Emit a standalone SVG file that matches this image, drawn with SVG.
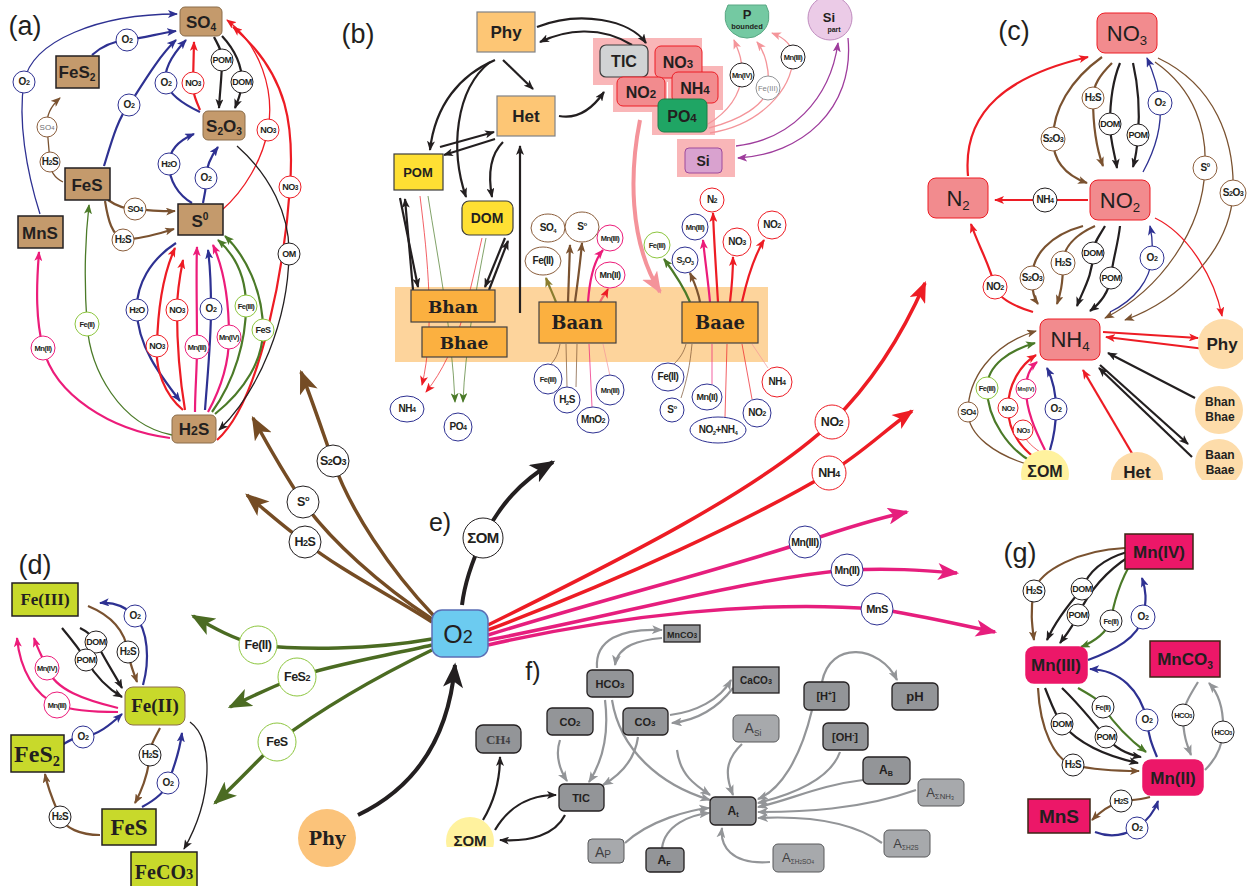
<svg xmlns="http://www.w3.org/2000/svg" width="1255" height="886" viewBox="0 0 1255 886">
<style>
text{font-family:"Liberation Sans",Arial,sans-serif;fill:#231f20;text-anchor:middle}
.pl{font-size:27px}
.t{font-size:10px;font-weight:bold;letter-spacing:-0.5px}
.t8{font-size:9px;font-weight:bold;letter-spacing:-0.5px}
.t7{font-size:7.5px;font-weight:bold;letter-spacing:-0.5px}
.te{font-size:12.5px;font-weight:bold;letter-spacing:-0.5px}
.d{font-size:72%}
.sb{font-size:60%}
.cB{fill:#fff;stroke:#2e3192}
.cR{fill:#fff;stroke:#ed1c24}
.cK{fill:#fff;stroke:#231f20}
.cN{fill:#fff;stroke:#8b5e3c}
.cG{fill:#fff;stroke:#8dc63f}
.cP{fill:#fff;stroke:#ec1c7a}
.cY{fill:#fff;stroke:#939598}
.ba{fill:#c49a6c;stroke:#8b6d4a;stroke-width:1}
.bas{fill:#c49a6c;stroke:#231f20;stroke-width:1.5}
.bt{font-size:17px;font-weight:bold}
.or{fill:#fdc675;stroke:#808285;stroke-width:1.2}
.ye{fill:#ffe033;stroke:#3c3c3c;stroke-width:1.2}
.rd{fill:#f28b8e;stroke:#ed1c24;stroke-width:1}
.bh{fill:#fbb040;stroke:#414042;stroke-width:1.2}
.bht{font-family:"DejaVu Serif",serif;font-weight:bold;font-size:17px}
.fe{fill:#c8d92b;stroke:#231f20;stroke-width:1.5}
.fet{font-family:"Liberation Serif",serif;font-weight:bold}
.mn{fill:#ec1768;stroke:#3c2415;stroke-width:1.5}
.mnt{font-size:17px;font-weight:bold}
.gb{fill:#939598;stroke:#231f20;stroke-width:1.3}
.gl{fill:#a7a9ac;stroke:#58595b;stroke-width:1}
.gt{font-size:11px;font-weight:bold}
.glt{font-size:14px;fill:#414042}
#connectors path{fill:none;stroke-width:1.3}
.b{stroke:#2e3192;marker-end:url(#mb)}
.r{stroke:#ed1c24;marker-end:url(#mr)}
.k{stroke:#231f20;marker-end:url(#mk)}
.n{stroke:#7a5230;marker-end:url(#mn)}
.g{stroke:#4b7a28;marker-end:url(#mg)}
.p{stroke:#ec1c7a;marker-end:url(#mp)}
.y{stroke:#939598;marker-end:url(#my)}
.s{stroke:#f4959a;marker-end:url(#ms)}
.u{stroke:#9e3c9c;marker-end:url(#mu)}
.o{stroke:#8a7d2e;marker-end:url(#mo)}
.z{marker-end:none}
#connectors .w{stroke-width:2.2}
#connectors .th{stroke-width:0.7}
#connectors .eN{stroke:#754c24;stroke-width:3.5;marker-end:url(#MN)}
#connectors .eG{stroke:#4b6b22;stroke-width:3.5;marker-end:url(#MG)}
#connectors .eR{stroke:#ed1c24;stroke-width:3.5;marker-end:url(#MR)}
#connectors .eP{stroke:#e61e7d;stroke-width:3.5;marker-end:url(#MP)}
#connectors .eK{stroke:#231f20;stroke-width:4;marker-end:url(#MK)}
#connectors .eS{stroke:#f4939a;stroke-width:4;marker-end:url(#MS)}
</style>
<defs>
<marker id="mb" viewBox="0 0 10 8" refX="9" refY="4" markerWidth="10" markerHeight="8" markerUnits="userSpaceOnUse" orient="auto"><path d="M0,0 L10,4 L0,8 L2.5,4 z" fill="#2e3192"/></marker>
<marker id="mr" viewBox="0 0 10 8" refX="9" refY="4" markerWidth="10" markerHeight="8" markerUnits="userSpaceOnUse" orient="auto"><path d="M0,0 L10,4 L0,8 L2.5,4 z" fill="#ed1c24"/></marker>
<marker id="mk" viewBox="0 0 10 8" refX="9" refY="4" markerWidth="10" markerHeight="8" markerUnits="userSpaceOnUse" orient="auto"><path d="M0,0 L10,4 L0,8 L2.5,4 z" fill="#231f20"/></marker>
<marker id="mn" viewBox="0 0 10 8" refX="9" refY="4" markerWidth="10" markerHeight="8" markerUnits="userSpaceOnUse" orient="auto"><path d="M0,0 L10,4 L0,8 L2.5,4 z" fill="#7a5230"/></marker>
<marker id="mg" viewBox="0 0 10 8" refX="9" refY="4" markerWidth="10" markerHeight="8" markerUnits="userSpaceOnUse" orient="auto"><path d="M0,0 L10,4 L0,8 L2.5,4 z" fill="#4b7a28"/></marker>
<marker id="mp" viewBox="0 0 10 8" refX="9" refY="4" markerWidth="10" markerHeight="8" markerUnits="userSpaceOnUse" orient="auto"><path d="M0,0 L10,4 L0,8 L2.5,4 z" fill="#ec1c7a"/></marker>
<marker id="my" viewBox="0 0 10 8" refX="9" refY="4" markerWidth="11" markerHeight="9" markerUnits="userSpaceOnUse" orient="auto"><path d="M0,0 L10,4 L0,8 L2.5,4 z" fill="#939598"/></marker>
<marker id="ms" viewBox="0 0 10 8" refX="9" refY="4" markerWidth="10" markerHeight="8" markerUnits="userSpaceOnUse" orient="auto"><path d="M0,0 L10,4 L0,8 L2.5,4 z" fill="#f4959a"/></marker>
<marker id="mu" viewBox="0 0 10 8" refX="9" refY="4" markerWidth="10" markerHeight="8" markerUnits="userSpaceOnUse" orient="auto"><path d="M0,0 L10,4 L0,8 L2.5,4 z" fill="#9e3c9c"/></marker>
<marker id="mo" viewBox="0 0 10 8" refX="9" refY="4" markerWidth="10" markerHeight="8" markerUnits="userSpaceOnUse" orient="auto"><path d="M0,0 L10,4 L0,8 L2.5,4 z" fill="#8a7d2e"/></marker>
<marker id="MN" viewBox="0 0 10 8" refX="9" refY="4" markerWidth="24" markerHeight="19" markerUnits="userSpaceOnUse" orient="auto"><path d="M0,0 L10,4 L0,8 L2.5,4 z" fill="#754c24"/></marker>
<marker id="MG" viewBox="0 0 10 8" refX="9" refY="4" markerWidth="24" markerHeight="19" markerUnits="userSpaceOnUse" orient="auto"><path d="M0,0 L10,4 L0,8 L2.5,4 z" fill="#4b6b22"/></marker>
<marker id="MR" viewBox="0 0 10 8" refX="9" refY="4" markerWidth="22" markerHeight="17" markerUnits="userSpaceOnUse" orient="auto"><path d="M0,0 L10,4 L0,8 L2.5,4 z" fill="#ed1c24"/></marker>
<marker id="MP" viewBox="0 0 10 8" refX="9" refY="4" markerWidth="24" markerHeight="17" markerUnits="userSpaceOnUse" orient="auto"><path d="M0,0 L10,4 L0,8 L2.5,4 z" fill="#e61e7d"/></marker>
<marker id="MK" viewBox="0 0 10 8" refX="9" refY="4" markerWidth="26" markerHeight="20" markerUnits="userSpaceOnUse" orient="auto"><path d="M0,0 L10,4 L0,8 L2.5,4 z" fill="#231f20"/></marker>
<marker id="MS" viewBox="0 0 10 8" refX="9" refY="4" markerWidth="22" markerHeight="18" markerUnits="userSpaceOnUse" orient="auto"><path d="M0,0 L10,4 L0,8 L2.5,4 z" fill="#f4939a"/></marker>
<clipPath id="clc"><rect x="0" y="0" width="1243" height="480"/></clipPath>
<clipPath id="clf"><rect x="0" y="0" width="1255" height="847"/></clipPath>
</defs>

<g id="backgrounds">
<rect x="395" y="287" width="373" height="75" fill="#fdd49c"/>
<g fill="#f9b6b8">
<rect x="593" y="38" width="57" height="47"/>
<rect x="650" y="38" width="52" height="44"/>
<rect x="613" y="76" width="54" height="36"/>
<rect x="668" y="66" width="55" height="44"/>
<rect x="652" y="100" width="63" height="35"/>
<rect x="677" y="139" width="58" height="38"/>
</g>
</g>

<g id="connectors">
<path class="b" d="M40,214 C26,170 18,120 24,82 C32,40 100,14 177,14"/>
<path class="b w" d="M92,55 C102,46 114,41 127,40 C145,38 160,33 176,31"/>
<path class="b w" d="M104,166 C112,140 118,118 129,105 C145,80 160,55 176,40"/>
<path class="b w" d="M200,112 C185,105 170,96 166,83 C163,70 172,55 186,40"/>
<path class="r w" d="M200,110 C196,100 193,95 193,83 L194,42"/>
<path class="k w" d="M214,37 C218,45 222,50 222,60 C222,75 220,90 219,108"/>
<path class="k w" d="M222,36 C235,50 242,65 242,82 C242,92 238,100 235,108"/>
<path class="r" d="M222,210 C245,190 262,160 268,130 C275,90 260,45 227,20"/>
<path class="r w" d="M217,440 C262,400 285,260 290,187 C294,130 290,75 233,27"/>
<path class="k" d="M237,146 C270,175 290,215 289,254 C288,320 260,390 219,430"/>
<path class="b w" d="M192,203 C178,195 169,180 169,164 C169,150 180,140 194,134"/>
<path class="b w" d="M203,203 C205,195 206,188 206,178 C206,165 212,155 218,147"/>
<path class="n w" d="M108,200 C115,205 125,209 135,209 C150,210 160,212 175,211"/>
<path class="n w" d="M105,201 C108,220 112,236 124,239 C140,240 160,233 174,229"/>
<path class="n" d="M63,182 C55,178 50,172 50,162 L47,127 C46,115 52,105 60,98"/>
<path class="g" d="M172,435 C120,425 90,370 87,324 C84,280 85,240 89,205"/>
<path class="p w" d="M170,438 C110,430 55,395 43,348 C36,320 36,290 39,252"/>
<path class="b w" d="M176,243 C150,260 136,285 137,310 C137,345 160,375 180,401"/>
<path class="r w" d="M183,410 C165,395 155,370 157,346 C158,300 165,270 175,248"/>
<path class="r w" d="M185,410 C180,380 177,340 177,310 C177,290 180,275 183,260"/>
<path class="p w" d="M195,412 C195,390 197,370 197,347 C197,310 196,270 197,247"/>
<path class="b w" d="M205,410 C208,370 211,340 211,309 C211,285 210,265 208,250"/>
<path class="p w" d="M208,412 C220,390 229,365 229,337 C229,295 222,265 213,245"/>
<path class="g w" d="M212,412 C235,380 246,340 246,306 C246,275 235,255 218,240"/>
<path class="g w" d="M215,414 C245,390 263,360 263,330 C263,290 245,255 225,236"/>

<path class="k w" d="M537,27 C580,10 630,20 646,43"/>
<path class="k w" d="M632,45 C600,25 565,30 540,42"/>
<path class="k w" d="M503,60 L533,89"/>
<path class="k w" d="M495,60 C460,75 435,105 430,150"/>
<path class="k w" d="M490,62 C455,90 450,150 466,197"/>
<path class="k w" d="M503,142 C490,155 488,175 492,197"/>
<path class="k w" d="M440,147 L494,132"/>
<path class="k w" d="M495,139 L444,155"/>
<path class="k w" d="M520,313 L520,146"/>
<path class="k w" d="M559,116 C580,120 595,105 604,92"/>
<path class="eS" d="M640,120 C630,170 628,240 660,292"/>
<path class="k w" d="M400,198 L418,287"/>
<path class="k w" d="M413,290 L405,199"/>
<path class="k w" d="M505,238 L485,287"/>
<path class="k w" d="M489,290 L508,241"/>
<path class="r th" d="M420,196 C428,260 435,330 422,385"/>
<path class="r th" d="M482,238 C470,290 460,350 426,392"/>
<path class="g th" d="M428,196 C438,260 452,330 455,402"/>
<path class="g th" d="M486,238 C476,290 465,350 463,402"/>
<path class="s" d="M708,124 C728,112 740,95 742,75 C743,60 738,50 734,40"/>
<path class="s" d="M709,128 C740,120 765,105 768,88 C770,70 765,52 757,42"/>
<path class="s" d="M710,133 C760,125 792,90 793,57 C793,45 785,38 772,33"/>
<path class="u" d="M736,146 C790,140 830,100 838,43"/>
<path class="u" d="M848,38 C855,110 800,155 738,158"/>
<path class="o w" d="M556,302 C552,292 549,286 546,278"/>
<path class="n w" d="M568,302 L570,245"/>
<path class="n w" d="M575,302 C578,280 580,265 582,243"/>
<path class="p w" d="M588,302 C590,275 596,258 603,250"/>
<path class="w" style="stroke:#f26d6d;marker-end:url(#mr)" d="M600,302 C603,296 606,293 608,289"/>
<path class="n z th" d="M560,344 C558,355 555,360 550,365"/>
<path class="n z th" d="M566,344 L567,387"/>
<path class="n z th" d="M577,344 L576,387"/>
<path class="p z th" d="M589,344 L592,407"/>
<path class="s z th" d="M603,344 L610,376"/>
<path class="g w" d="M690,302 C685,290 676,275 664,259"/>
<path class="n w" d="M700,302 C698,290 694,282 690,273"/>
<path class="p w" d="M710,302 C708,280 705,260 703,240"/>
<path class="r w" d="M718,302 C716,270 714,240 713,213"/>
<path class="r w" d="M730,302 C732,285 733,270 733,257"/>
<path class="r w" d="M742,302 C748,275 755,255 764,240"/>
<path class="n z th" d="M692,344 C690,365 687,380 681,398"/>
<path class="n z th" d="M686,344 C684,352 680,358 674,364"/>
<path class="p z th" d="M712,344 L712,384"/>
<path class="r z th" d="M727,344 L725,417"/>
<path class="r z th" d="M742,344 L752,399"/>
<path class="s z th" d="M752,344 L768,368"/>

<path class="r w" d="M968,176 C962,110 1010,75 1088,57"/>
<path class="r w" d="M1088,200 L995,200"/>
<path class="n w" d="M1102,57 C1070,80 1053,110 1053,139 C1053,160 1065,175 1087,183"/>
<path class="n w" d="M1112,63 C1100,75 1093,85 1093,98 C1093,130 1097,150 1103,166"/>
<path class="k w" d="M1120,63 C1113,80 1110,100 1110,124 C1110,140 1115,155 1117,168"/>
<path class="k w" d="M1133,63 C1138,85 1140,110 1138,135 C1137,150 1135,160 1133,167"/>
<path class="b" d="M1143,172 C1155,150 1162,125 1160,103 C1158,85 1153,72 1147,58"/>
<path class="n" d="M1155,62 C1195,90 1207,130 1205,168 C1203,230 1160,290 1105,318"/>
<path class="n" d="M1158,58 C1215,85 1235,140 1233,193 C1230,250 1180,300 1125,320"/>
<path class="r" d="M1155,218 C1190,235 1215,280 1222,316"/>
<path class="r w" d="M1033,312 C1010,305 998,297 995,287 C990,265 978,245 971,224"/>
<path class="n w" d="M1083,226 C1050,235 1032,255 1032,278 C1032,292 1035,300 1038,304"/>
<path class="n w" d="M1095,226 C1075,235 1063,248 1063,263 C1063,285 1060,295 1057,304"/>
<path class="k w" d="M1105,226 C1100,235 1093,243 1093,253 C1093,275 1083,290 1077,306"/>
<path class="k w" d="M1120,226 C1118,245 1112,262 1111,278 C1108,295 1098,305 1090,311"/>
<path class="b" d="M1110,312 C1135,300 1150,280 1152,258 C1153,245 1152,235 1150,226"/>
<path class="r w" d="M1103,332 L1198,338"/>
<path class="r w" d="M1205,349 L1106,337"/>
<path class="k w" d="M1195,398 L1108,353"/>
<path class="k w" d="M1100,365 L1188,444"/>
<path class="k w" d="M1192,457 L1099,368"/>
<path class="r w" d="M1133,455 L1083,370"/>
<path class="n" d="M1030,465 C995,455 968,435 968,412 C968,380 990,345 1036,331"/>
<path class="g w" d="M1032,462 C1010,450 987,420 987,388 C987,365 1010,350 1035,343"/>
<path class="r w" d="M1035,458 C1018,445 1008,428 1008,408 C1008,385 1020,365 1036,355"/>
<path class="r z th" d="M1040,452 C1030,445 1023,438 1023,430"/>
<path class="p w" d="M1045,450 C1035,430 1026,410 1026,389 C1026,375 1031,367 1037,362"/>
<path class="b w" d="M1050,450 C1053,440 1056,425 1056,409 C1056,390 1052,378 1047,368"/>

<path class="b w" d="M143,685 C150,660 148,630 135,616 C125,606 112,602 100,603"/>
<path class="n w" d="M88,606 C110,615 125,630 128,652 C130,665 134,673 137,682"/>
<path class="k w" d="M80,628 C88,632 93,636 96,642 C105,660 115,675 122,688"/>
<path class="k w" d="M62,628 C72,640 80,650 86,660 C98,680 110,690 122,697"/>
<path class="p w" d="M118,708 C85,700 55,690 47,668 C43,658 38,650 34,638"/>
<path class="p w" d="M118,712 C95,712 70,710 57,705 C35,695 20,670 17,638"/>
<path class="b w" d="M62,745 C70,740 75,737 83,737 C98,735 110,725 122,714"/>
<path class="n w" d="M160,728 C155,738 150,745 150,755 C148,775 142,790 135,803"/>
<path class="b w" d="M142,807 C155,800 165,792 168,783 C175,765 180,748 182,733"/>
<path class="n w" d="M100,835 C80,835 65,828 60,817 C55,805 48,790 45,774"/>
<path class="k" d="M190,722 C215,740 212,800 184,849"/>

<path class="n w" d="M1125,548 C1080,550 1040,570 1034,591 C1030,610 1032,625 1034,640"/>
<path class="k w" d="M1127,552 C1100,560 1087,575 1082,589 C1068,605 1056,620 1047,640"/>
<path class="k w" d="M1130,556 C1100,575 1085,600 1078,615 C1072,628 1066,635 1060,643"/>
<path class="g w" d="M1133,560 C1120,580 1113,605 1111,621 C1105,635 1093,642 1081,647"/>
<path class="b w" d="M1088,660 C1115,650 1138,638 1143,617 C1147,600 1146,590 1142,578"/>
<path class="b w" d="M1157,757 C1152,745 1148,735 1147,720 C1140,690 1120,670 1090,669"/>
<path class="g w" d="M1078,688 C1090,695 1100,700 1103,707 C1115,725 1130,740 1146,752"/>
<path class="k w" d="M1045,688 C1050,700 1055,715 1062,724 C1080,745 1110,757 1138,763"/>
<path class="k w" d="M1062,688 C1080,705 1095,725 1106,737 C1115,748 1125,754 1141,757"/>
<path class="n w" d="M1038,688 C1040,730 1055,760 1073,765 C1095,770 1120,771 1139,771"/>
<path class="y w" d="M1198,682 C1190,695 1184,705 1183,715 C1183,735 1187,745 1191,755"/>
<path class="y w" d="M1205,770 C1215,760 1222,748 1223,732 C1224,710 1220,695 1209,683"/>
<path class="n w" d="M1150,797 C1140,800 1130,800 1121,801 C1110,805 1100,812 1092,820"/>
<path class="b w" d="M1095,832 C1110,838 1125,835 1137,828 C1148,820 1155,810 1158,801"/>

<path class="eK" d="M462,605 C465,580 475,555 483,538 C500,505 520,482 553,462"/>
<path class="eN" d="M432,622 C390,595 340,570 305,542 C285,528 265,510 247,495"/>
<path class="eN" d="M432,619 C380,585 330,540 303,502 C285,475 265,440 253,418"/>
<path class="eN" d="M434,616 C390,570 350,510 333,461 C322,430 312,400 301,372"/>
<path class="eG" d="M432,639 C370,650 300,650 258,645 C235,640 212,627 193,616"/>
<path class="eG" d="M432,645 C390,655 330,665 297,677 C272,687 250,697 230,707"/>
<path class="eG" d="M432,650 C370,680 320,710 277,742 C258,760 235,785 215,803"/>
<path class="eR" d="M488,625 C620,560 760,490 832,422 C870,385 900,340 925,283"/>
<path class="eR" d="M488,630 C620,580 750,520 829,473 C860,455 885,430 912,411"/>
<path class="eP" d="M488,635 C600,600 720,570 805,542 C840,530 870,520 907,512"/>
<path class="eP" d="M488,640 C620,615 740,580 847,570 C890,568 920,570 957,573"/>
<path class="eP" d="M488,645 C620,615 760,600 877,609 C920,615 960,625 995,632"/>
<path class="eK" d="M358,815 C410,790 448,745 455,665"/>

<path class="y w" d="M597,668 C595,640 620,628 662,630"/>
<path class="y w" d="M662,638 C640,640 618,645 615,665"/>
<path class="y w" d="M670,715 C695,712 720,700 731,680"/>
<path class="y w" d="M733,688 C720,705 700,720 672,723"/>
<path class="y w" d="M560,740 C555,755 560,770 567,781"/>
<path class="y w" d="M605,700 C610,740 600,765 589,782"/>
<path class="y w" d="M638,737 C635,760 620,775 603,785"/>
<path class="y w" d="M612,700 C620,750 660,785 710,800"/>
<path class="y w" d="M677,750 C680,775 695,785 710,795"/>
<path class="y w" d="M625,843 C650,820 690,810 709,808"/>
<path class="y w" d="M662,848 C665,825 690,815 709,813"/>
<path class="y w" d="M742,744 C725,760 725,775 733,795"/>
<path class="y w" d="M822,682 C830,640 880,645 897,680"/>
<path class="y w" d="M812,710 C800,760 780,790 758,799"/>
<path class="y w" d="M840,752 C830,780 790,795 758,803"/>
<path class="y w" d="M863,780 C820,785 790,800 758,807"/>
<path class="y w" d="M916,790 C860,810 800,812 758,812"/>
<path class="y w" d="M882,843 C850,820 800,816 758,818"/>
<path class="y w" d="M770,862 C730,865 720,845 722,828"/>
<path class="k w" d="M495,830 C510,805 530,795 556,795"/>
<path class="k w" d="M565,815 C555,835 530,842 500,840"/>
<path class="k w" d="M483,820 C495,800 500,780 500,757"/>
</g>

<g id="a-SO4"><rect class="ba" x="180" y="7" width="42" height="29" rx="5"/><text class="bt" x="201" y="28">SO<tspan class="sb" dy="3">4</tspan></text></g>
<g id="a-FeS2"><rect class="bas" x="56" y="56" width="43" height="32"/><text class="bt" x="77" y="78">FeS<tspan class="sb" dy="3">2</tspan></text></g>
<g id="a-S2O3"><rect class="ba" x="203" y="111" width="42" height="29" rx="5"/><text class="bt" x="224" y="132">S<tspan class="sb" dy="3">2</tspan><tspan dy="-3">O</tspan><tspan class="sb" dy="3">3</tspan></text></g>
<g id="a-FeS"><rect class="bas" x="65" y="168" width="45" height="32"/><text class="bt" x="87" y="191">FeS</text></g>
<g id="a-S0"><rect class="bas" x="178" y="204" width="45" height="31"/><text class="bt" x="200" y="227">S<tspan class="sb" dy="-7">0</tspan></text></g>
<g id="a-MnS"><rect class="bas" x="18" y="216" width="45" height="32"/><text class="bt" x="40" y="239">MnS</text></g>
<g id="a-H2S"><rect class="ba" x="172" y="415" width="44" height="28" rx="5"/><text class="bt" x="194" y="435">H<tspan class="d">2</tspan>S</text></g>
<g id="a-labels">
<circle class="cB" cx="24" cy="82" r="11"/><text class="t" x="24" y="85">O<tspan class="d">2</tspan></text>
<circle class="cB" cx="127" cy="40" r="11"/><text class="t" x="127" y="43">O<tspan class="d">2</tspan></text>
<circle class="cN" cx="47" cy="127" r="10"/><text x="47" y="130" style="font-size:8px;fill:#6d6e71">SO<tspan class="d">4</tspan></text>
<circle class="cN" cx="50" cy="162" r="10"/><text class="t" x="50" y="165">H<tspan class="d">2</tspan>S</text>
<circle class="cB" cx="129" cy="105" r="11"/><text class="t" x="129" y="108">O<tspan class="d">2</tspan></text>
<circle class="cB" cx="166" cy="83" r="11"/><text class="t" x="166" y="86">O<tspan class="d">2</tspan></text>
<circle class="cR" cx="193" cy="83" r="11"/><text class="t8" x="193" y="86">NO<tspan class="d">3</tspan></text>
<circle class="cK" cx="222" cy="60" r="11"/><text class="t8" x="222" y="63">POM</text>
<circle class="cK" cx="242" cy="82" r="11"/><text class="t8" x="242" y="85">DOM</text>
<circle class="cR" cx="268" cy="130" r="11"/><text class="t8" x="268" y="133">NO<tspan class="d">3</tspan></text>
<circle class="cB" cx="169" cy="164" r="11"/><text class="t8" x="169" y="167">H<tspan class="d">2</tspan>O</text>
<circle class="cB" cx="206" cy="178" r="11"/><text class="t" x="206" y="181">O<tspan class="d">2</tspan></text>
<circle class="cN" cx="135" cy="209" r="11"/><text class="t8" x="135" y="212">SO<tspan class="d">4</tspan></text>
<circle class="cN" cx="123" cy="240" r="11"/><text class="t" x="123" y="243">H<tspan class="d">2</tspan>S</text>
<circle class="cR" cx="290" cy="187" r="11"/><text class="t8" x="290" y="190">NO<tspan class="d">3</tspan></text>
<circle class="cK" cx="289" cy="254" r="11"/><text class="t8" x="289" y="257">OM</text>
<circle class="cB" cx="137" cy="310" r="11"/><text class="t8" x="137" y="313">H<tspan class="d">2</tspan>O</text>
<circle class="cR" cx="177" cy="310" r="11"/><text class="t8" x="177" y="313">NO<tspan class="d">3</tspan></text>
<circle class="cB" cx="211" cy="309" r="11"/><text class="t" x="211" y="312">O<tspan class="d">2</tspan></text>
<circle class="cG" cx="246" cy="306" r="11"/><text class="t7" x="246" y="309">Fe(III)</text>
<circle class="cR" cx="157" cy="346" r="11"/><text class="t8" x="157" y="349">NO<tspan class="d">3</tspan></text>
<circle class="cP" cx="197" cy="347" r="12"/><text class="t7" x="197" y="350">Mn(III)</text>
<circle class="cP" cx="229" cy="337" r="12"/><text class="t7" x="229" y="340">Mn(IV)</text>
<circle class="cG" cx="263" cy="330" r="11"/><text class="t8" x="263" y="333">FeS</text>
<circle class="cG" cx="87" cy="324" r="12"/><text class="t7" x="87" y="327">Fe(II)</text>
<circle class="cP" cx="43" cy="348" r="12"/><text class="t7" x="43" y="351">Mn(II)</text>
</g>

<g id="b-Phy"><rect class="or" x="477" y="12" width="58" height="40"/><text class="bt" x="506" y="38">Phy</text></g>
<g id="b-Het"><rect class="or" x="497" y="96" width="58" height="40"/><text class="bt" x="526" y="122">Het</text></g>
<g id="b-POM"><rect class="ye" x="394" y="154" width="49" height="36"/><text x="418" y="177" style="font-size:13px;font-weight:bold">POM</text></g>
<g id="b-DOM"><rect class="ye" x="462" y="201" width="51" height="34" rx="7"/><text x="487" y="223" style="font-size:14px;font-weight:bold">DOM</text></g>
<g id="b-TIC"><rect x="600" y="45" width="48" height="32" rx="6" fill="#d1d3d4" stroke="#3c3c3c" stroke-width="1.2"/><text x="624" y="67" style="font-size:16px;font-weight:bold">TIC</text></g>
<g id="b-NO3"><rect class="rd" x="655" y="46" width="47" height="32" rx="6"/><text x="678" y="68" style="font-size:16px;font-weight:bold">NO<tspan class="d">3</tspan></text></g>
<g id="b-NO2"><rect class="rd" x="617" y="77" width="48" height="29" rx="6"/><text x="641" y="98" style="font-size:16px;font-weight:bold">NO<tspan class="d">2</tspan></text></g>
<g id="b-NH4"><rect class="rd" x="672" y="72" width="46" height="31" rx="6"/><text x="695" y="94" style="font-size:16px;font-weight:bold">NH<tspan class="d">4</tspan></text></g>
<g id="b-PO4"><rect x="658" y="99" width="49" height="33" rx="6" fill="#1fa564" stroke="#1a7d46"/><text x="682" y="122" style="font-size:16px;font-weight:bold">PO<tspan class="d">4</tspan></text></g>
<g id="b-Si"><rect x="685" y="148" width="37" height="25" rx="4" fill="#d9a2cf" stroke="#9e4a9c"/><text x="703" y="166" style="font-size:14px;font-weight:bold">Si</text></g>
<g id="b-Pbounded"><path d="M728,5 A22,22 0 1 0 766,5 Z" fill="#74c9a2" stroke="#5aa884"/><text x="747" y="19" style="font-size:13px;font-weight:bold">P</text><text x="747" y="29" style="font-size:7.5px;font-weight:bold">bounded</text></g>
<g id="b-Sipart"><circle cx="830" cy="18" r="22" fill="#ebcbe7" stroke="#c08dbf"/><text x="829" y="22" style="font-size:13px;font-weight:bold">Si</text><text x="834" y="32" style="font-size:7px;font-weight:bold">part</text></g>
<g id="b-Bhan"><rect class="bh" x="411" y="290" width="84" height="32"/><text class="bht" x="453" y="313">Bhan</text></g>
<g id="b-Bhae"><rect class="bh" x="422" y="327" width="85" height="30"/><text class="bht" x="464" y="349">Bhae</text></g>
<g id="b-Baan"><rect class="bh" x="539" y="302" width="77" height="41"/><text class="bht" x="577" y="329" style="font-size:18px">Baan</text></g>
<g id="b-Baae"><rect class="bh" x="682" y="302" width="76" height="41"/><text class="bht" x="720" y="329" style="font-size:18px">Baae</text></g>
<g id="b-labels">
<circle class="cK" cx="742" cy="75" r="12"/><text class="t7" x="742" y="78">Mn(IV)</text>
<circle class="cY" cx="768" cy="88" r="12"/><text x="768" y="91" style="font-size:7.5px;fill:#808285">Fe(III)</text>
<circle class="cK" cx="793" cy="57" r="12"/><text class="t7" x="793" y="60">Mn(III)</text>
<ellipse class="cN" cx="548" cy="228" rx="17" ry="14"/><text class="t" x="548" y="231">SO<tspan class="sb" dy="2">4</tspan></text>
<ellipse class="cN" cx="582" cy="227" rx="17" ry="15"/><text class="t" x="582" y="230">S<tspan class="sb" dy="-4">o</tspan></text>
<ellipse class="cN" cx="543" cy="261" rx="18" ry="14"/><text class="t" x="543" y="264">Fe(II)</text>
<circle class="cP" cx="610" cy="238" r="13"/><text class="t7" x="610" y="241">Mn(III)</text>
<ellipse class="cP" cx="610" cy="275" rx="15" ry="13"/><text class="t8" x="610" y="278">Mn(II)</text>
<ellipse class="cB" cx="548" cy="379" rx="14" ry="15"/><text class="t7" x="548" y="382">Fe(III)</text>
<circle class="cB" cx="567" cy="400" r="13"/><text class="t" x="567" y="403">H<tspan class="sb" dy="2">2</tspan><tspan dy="-2">S</tspan></text>
<ellipse class="cB" cx="593" cy="420" rx="16" ry="13"/><text class="t" x="593" y="423">MnO<tspan class="d">2</tspan></text>
<ellipse class="cB" cx="610" cy="390" rx="14" ry="15"/><text class="t7" x="610" y="393">Mn(III)</text>
<circle class="cG" cx="657" cy="245" r="13"/><text class="t7" x="657" y="248">Fe(III)</text>
<circle class="cB" cx="695" cy="227" r="13"/><text class="t7" x="695" y="230">Mn(III)</text>
<circle class="cB" cx="685" cy="260" r="13"/><text class="t8" x="685" y="263">S<tspan class="sb" dy="2">2</tspan><tspan dy="-2">O</tspan><tspan class="sb" dy="2">3</tspan></text>
<circle class="cR" cx="712" cy="200" r="12"/><text class="t" x="712" y="203">N<tspan class="d">2</tspan></text>
<circle class="cR" cx="737" cy="242" r="14"/><text class="t" x="737" y="245">NO<tspan class="d">3</tspan></text>
<circle class="cR" cx="772" cy="225" r="14"/><text class="t" x="772" y="228">NO<tspan class="d">2</tspan></text>
<ellipse class="cB" cx="668" cy="377" rx="16" ry="14"/><text class="t" x="668" y="380">Fe(II)</text>
<circle class="cB" cx="672" cy="410" r="12"/><text class="t" x="672" y="413">S<tspan class="sb" dy="-4">o</tspan></text>
<ellipse class="cB" cx="707" cy="397" rx="15" ry="13"/><text class="t8" x="707" y="400">Mn(II)</text>
<ellipse class="cB" cx="718" cy="430" rx="28" ry="13"/><text class="t" x="718" y="433">NO<tspan class="sb" dy="2">2</tspan><tspan dy="-2">+NH</tspan><tspan class="sb" dy="2">4</tspan></text>
<circle class="cB" cx="757" cy="413" r="14"/><text class="t" x="757" y="416">NO<tspan class="d">2</tspan></text>
<circle class="cR" cx="777" cy="382" r="15"/><text class="t" x="777" y="385">NH<tspan class="d">4</tspan></text>
<ellipse class="cB" cx="407" cy="409" rx="17" ry="13"/><text class="t" x="407" y="412">NH<tspan class="d">4</tspan></text>
<circle class="cB" cx="458" cy="427" r="14"/><text class="t" x="458" y="430">PO<tspan class="d">4</tspan></text>
</g>

<g id="c-NO3"><rect class="rd" x="1097" y="13" width="60" height="40" rx="8"/><text x="1127" y="41" style="font-size:22px">NO<tspan class="sb" dy="4">3</tspan></text></g>
<g id="c-N2"><rect class="rd" x="928" y="178" width="60" height="40" rx="8"/><text x="958" y="206" style="font-size:22px">N<tspan class="sb" dy="4">2</tspan></text></g>
<g id="c-NO2"><rect class="rd" x="1090" y="180" width="60" height="40" rx="8"/><text x="1120" y="208" style="font-size:22px">NO<tspan class="sb" dy="4">2</tspan></text></g>
<g id="c-NH4"><rect class="rd" x="1040" y="319" width="60" height="41" rx="8"/><text x="1070" y="347" style="font-size:22px">NH<tspan class="sb" dy="4">4</tspan></text></g>
<g clip-path="url(#clc)">
<g id="c-Phy"><circle cx="1223" cy="344" r="25" fill="#fddcaa"/><text x="1222" y="350" style="font-size:17px;font-weight:bold">Phy</text></g>
<g id="c-BhanBhae"><circle cx="1219" cy="410" r="24" fill="#fddcaa"/><text x="1220" y="406" style="font-size:12px;font-weight:bold">Bhan</text><text x="1220" y="421" style="font-size:12px;font-weight:bold">Bhae</text></g>
<g id="c-BaanBaae"><circle cx="1219" cy="463" r="24" fill="#fddcaa"/><text x="1220" y="459" style="font-size:12px;font-weight:bold">Baan</text><text x="1220" y="474" style="font-size:12px;font-weight:bold">Baae</text></g>
<g id="c-SOM"><circle cx="1045" cy="474" r="24" fill="#fff29e"/><text x="1045" y="477" style="font-size:16px;font-weight:bold">ΣOM</text></g>
<g id="c-Het"><circle cx="1137" cy="478" r="26" fill="#fddcaa"/><text x="1137" y="478" style="font-size:17px;font-weight:bold">Het</text></g>
</g>
<g id="c-labels">
<circle class="cN" cx="1093" cy="98" r="11"/><text class="t" x="1093" y="101">H<tspan class="d">2</tspan>S</text>
<circle class="cK" cx="1110" cy="124" r="11"/><text class="t8" x="1110" y="127">DOM</text>
<circle class="cK" cx="1138" cy="135" r="11"/><text class="t8" x="1138" y="138">POM</text>
<circle class="cB" cx="1160" cy="103" r="12"/><text class="t" x="1160" y="106">O<tspan class="d">2</tspan></text>
<circle class="cN" cx="1053" cy="139" r="12"/><text class="t" x="1053" y="142">S<tspan class="d">2</tspan>O<tspan class="d">3</tspan></text>
<circle class="cN" cx="1205" cy="168" r="12"/><text class="t" x="1205" y="171">S<tspan class="sb" dy="-4">0</tspan></text>
<circle class="cN" cx="1233" cy="193" r="13"/><text class="t" x="1233" y="196">S<tspan class="d">2</tspan>O<tspan class="d">3</tspan></text>
<circle class="cK" cx="1045" cy="200" r="12"/><text class="t" x="1045" y="203">NH<tspan class="d">4</tspan></text>
<circle class="cR" cx="995" cy="287" r="12"/><text class="t" x="995" y="290">NO<tspan class="d">2</tspan></text>
<circle class="cN" cx="1032" cy="278" r="12"/><text class="t" x="1032" y="281">S<tspan class="d">2</tspan>O<tspan class="d">3</tspan></text>
<circle class="cN" cx="1063" cy="263" r="12"/><text class="t" x="1063" y="266">H<tspan class="d">2</tspan>S</text>
<circle class="cK" cx="1093" cy="253" r="11"/><text class="t8" x="1093" y="256">DOM</text>
<circle class="cK" cx="1111" cy="278" r="11"/><text class="t8" x="1111" y="281">POM</text>
<circle class="cB" cx="1152" cy="258" r="12"/><text class="t" x="1152" y="261">O<tspan class="d">2</tspan></text>
<circle class="cN" cx="968" cy="412" r="10"/><text class="t8" x="968" y="415">SO<tspan class="d">4</tspan></text>
<circle class="cG" cx="987" cy="388" r="11"/><text class="t7" x="987" y="391">Fe(III)</text>
<circle class="cR" cx="1008" cy="408" r="10"/><text class="t7" x="1008" y="411">NO<tspan class="d">2</tspan></text>
<circle class="cP" cx="1026" cy="389" r="10"/><text x="1026" y="391" style="font-size:5.5px;font-weight:bold">Mn(IV)</text>
<circle class="cR" cx="1023" cy="430" r="10"/><text class="t7" x="1023" y="433">NO<tspan class="d">3</tspan></text>
<circle class="cB" cx="1056" cy="409" r="11"/><text class="t" x="1056" y="412">O<tspan class="d">2</tspan></text>
</g>

<g id="d-FeIII"><rect class="fe" x="12" y="583" width="66" height="33"/><text class="fet" x="45" y="605" style="font-size:17px">Fe(III)</text></g>
<g id="d-FeII"><rect x="125" y="687" width="60" height="38" rx="8" fill="#c8d92b" stroke="#8b6d4a"/><text class="fet" x="155" y="712" style="font-size:19px">Fe(II)</text></g>
<g id="d-FeS2"><rect class="fe" x="11" y="735" width="53" height="37"/><text class="fet" x="37" y="762" style="font-size:24px">FeS<tspan class="sb" dy="4">2</tspan></text></g>
<g id="d-FeS"><rect class="fe" x="102" y="809" width="54" height="36"/><text class="fet" x="129" y="835" style="font-size:23px">FeS</text></g>
<g id="d-FeCO3"><rect class="fe" x="131" y="852" width="66" height="40"/><text class="fet" x="164" y="879" style="font-size:20px">FeCO<tspan class="d">3</tspan></text></g>
<g id="d-labels">
<circle class="cB" cx="135" cy="616" r="11"/><text class="t" x="135" y="619">O<tspan class="d">2</tspan></text>
<circle class="cK" cx="96" cy="642" r="11"/><text class="t8" x="96" y="645">DOM</text>
<circle class="cK" cx="128" cy="652" r="11"/><text class="t" x="128" y="655">H<tspan class="d">2</tspan>S</text>
<circle class="cK" cx="86" cy="660" r="11"/><text class="t8" x="86" y="663">POM</text>
<circle class="cP" cx="47" cy="668" r="12"/><text class="t7" x="47" y="671">Mn(IV)</text>
<circle class="cP" cx="57" cy="705" r="13"/><text class="t7" x="57" y="708">Mn(III)</text>
<circle class="cB" cx="83" cy="737" r="11"/><text class="t" x="83" y="740">O<tspan class="d">2</tspan></text>
<circle class="cK" cx="150" cy="755" r="11"/><text class="t" x="150" y="758">H<tspan class="d">2</tspan>S</text>
<circle class="cB" cx="168" cy="783" r="11"/><text class="t" x="168" y="786">O<tspan class="d">2</tspan></text>
<circle class="cK" cx="60" cy="817" r="11"/><text class="t" x="60" y="820">H<tspan class="d">2</tspan>S</text>
</g>

<g id="g-MnIV"><rect class="mn" x="1125" y="534" width="68" height="35"/><text class="mnt" x="1159" y="558">Mn(IV)</text></g>
<g id="g-MnIII"><rect class="mn" x="1026" y="647" width="61" height="36" rx="8" style="stroke:#ec1768"/><text class="mnt" x="1056" y="671">Mn(III)</text></g>
<g id="g-MnCO3"><rect class="mn" x="1150" y="641" width="70" height="36"/><text class="mnt" x="1185" y="665">MnCO<tspan class="sb" dy="4">3</tspan></text></g>
<g id="g-MnII"><rect class="mn" x="1143" y="760" width="60" height="35" rx="8" style="stroke:#ec1768"/><text class="mnt" x="1173" y="784">Mn(II)</text></g>
<g id="g-MnS"><rect class="mn" x="1028" y="799" width="62" height="34"/><text class="mnt" x="1059" y="823" style="font-size:19px">MnS</text></g>
<g id="g-labels">
<circle class="cK" cx="1034" cy="591" r="11"/><text class="t" x="1034" y="594">H<tspan class="d">2</tspan>S</text>
<circle class="cK" cx="1082" cy="589" r="11"/><text class="t8" x="1082" y="592">DOM</text>
<circle class="cK" cx="1078" cy="615" r="11"/><text class="t8" x="1078" y="618">POM</text>
<circle class="cK" cx="1111" cy="621" r="11"/><text class="t7" x="1111" y="624">Fe(II)</text>
<circle class="cB" cx="1143" cy="617" r="12"/><text class="t" x="1143" y="620">O<tspan class="d">2</tspan></text>
<circle class="cK" cx="1103" cy="707" r="11"/><text class="t7" x="1103" y="710">Fe(II)</text>
<circle class="cB" cx="1147" cy="720" r="11"/><text class="t" x="1147" y="723">O<tspan class="d">2</tspan></text>
<circle class="cK" cx="1062" cy="724" r="11"/><text class="t8" x="1062" y="727">DOM</text>
<circle class="cK" cx="1106" cy="737" r="11"/><text class="t8" x="1106" y="740">POM</text>
<circle class="cK" cx="1073" cy="765" r="11"/><text class="t" x="1073" y="768">H<tspan class="d">2</tspan>S</text>
<circle class="cK" cx="1183" cy="715" r="11"/><text class="t7" x="1183" y="718">HCO<tspan class="d">3</tspan></text>
<circle class="cK" cx="1223" cy="732" r="11"/><text class="t7" x="1223" y="735">HCO<tspan class="d">3</tspan></text>
<circle class="cK" cx="1121" cy="801" r="11"/><text class="t8" x="1121" y="804">H<tspan class="d">2</tspan>S</text>
<circle class="cB" cx="1137" cy="828" r="11"/><text class="t" x="1137" y="831">O<tspan class="d">2</tspan></text>
</g>

<g id="e-O2"><rect x="432" y="610" width="56" height="47" rx="10" fill="#6ccbf0" stroke="#5b6fb5" stroke-width="1.5"/><text x="458" y="643" style="font-size:25px">O<tspan class="d">2</tspan></text></g>
<g id="e-Phy"><circle cx="327" cy="838" r="29" fill="#fbc37a"/><text x="327" y="845" style="font-family:'DejaVu Serif',serif;font-size:18px;font-weight:bold">Phy</text></g>
<g id="e-labels">
<circle class="cK" cx="483" cy="538" r="20"/><text class="te" x="483" y="543" style="font-size:15px">ΣOM</text>
<circle class="cK" cx="305" cy="542" r="16"/><text class="te" x="305" y="546">H<tspan class="d">2</tspan>S</text>
<circle class="cK" cx="303" cy="502" r="16"/><text class="te" x="303" y="506">S<tspan class="sb" dy="-5">o</tspan></text>
<circle class="cK" cx="333" cy="461" r="16"/><text class="te" x="333" y="465">S<tspan class="d">2</tspan>O<tspan class="d">3</tspan></text>
<circle class="cG" cx="258" cy="645" r="19"/><text class="te" x="258" y="649">Fe(II)</text>
<circle class="cG" cx="297" cy="677" r="19"/><text class="te" x="297" y="681">FeS<tspan class="d">2</tspan></text>
<circle class="cG" cx="277" cy="742" r="19"/><text class="te" x="277" y="746">FeS</text>
<circle class="cR" cx="832" cy="422" r="17"/><text class="te" x="832" y="426">NO<tspan class="d">2</tspan></text>
<circle class="cR" cx="829" cy="473" r="17"/><text class="te" x="829" y="477">NH<tspan class="d">4</tspan></text>
<circle class="cB" cx="805" cy="542" r="16"/><text class="t" x="805" y="546" style="font-size:10.5px">Mn(III)</text>
<circle class="cB" cx="847" cy="570" r="16"/><text class="t" x="847" y="574" style="font-size:10.5px">Mn(II)</text>
<circle class="cB" cx="877" cy="609" r="16"/><text class="t" x="877" y="613" style="font-size:11px">MnS</text>
</g>

<g id="f-MnCO3"><rect class="gb" x="664" y="625" width="36" height="17"/><text class="gt" x="682" y="638" style="font-size:9px">MnCO<tspan class="d">3</tspan></text></g>
<g id="f-HCO3"><rect class="gb" x="587" y="670" width="46" height="27" rx="5"/><text class="gt" x="610" y="688">HCO<tspan class="d">3</tspan></text></g>
<g id="f-CO2"><rect class="gb" x="547" y="708" width="46" height="27" rx="5"/><text class="gt" x="570" y="726">CO<tspan class="d">2</tspan></text></g>
<g id="f-CO3"><rect class="gb" x="623" y="708" width="45" height="27" rx="5"/><text class="gt" x="645" y="726">CO<tspan class="d">3</tspan></text></g>
<g id="f-CH4"><rect class="gb" x="476" y="725" width="45" height="28" rx="7"/><text x="498" y="744" style="font-family:'Liberation Serif',serif;font-weight:bold;font-size:13px;fill:#414042">CH<tspan class="d">4</tspan></text></g>
<g id="f-TIC"><rect class="gb" x="559" y="784" width="45" height="27" rx="5"/><text class="gt" x="581" y="802">TIC</text></g>
<g id="f-SOM" clip-path="url(#clf)"><circle cx="470" cy="841" r="24" fill="#fff29e"/><text x="470" y="846" style="font-size:15px;font-weight:bold">ΣOM</text></g>
<g id="f-AP"><rect class="gl" x="588" y="839" width="36" height="24" rx="4"/><text class="glt" x="603" y="857">A<tspan class="d" dy="1">P</tspan></text></g>
<g id="f-AF"><rect class="gb" x="646" y="848" width="38" height="24" rx="4"/><text class="gt" x="664" y="864" style="font-size:12px">A<tspan class="sb" dy="2">F</tspan></text></g>
<g id="f-CaCO3"><rect class="gb" x="733" y="667" width="46" height="26"/><text class="gt" x="756" y="684" style="font-size:10px">CaCO<tspan class="d">3</tspan></text></g>
<g id="f-H"><rect class="gb" x="804" y="682" width="45" height="28" rx="5"/><text class="gt" x="826" y="700">[H<tspan class="sb" dy="-4">+</tspan><tspan dy="4">]</tspan></text></g>
<g id="f-pH"><rect class="gb" x="892" y="683" width="46" height="27" rx="5"/><text class="gt" x="915" y="701" style="font-size:13px">pH</text></g>
<g id="f-ASi"><rect class="gl" x="733" y="715" width="46" height="27" rx="5"/><text class="glt" x="753" y="733">A<tspan class="sb" dy="3">Si</tspan></text></g>
<g id="f-OH"><rect class="gb" x="823" y="723" width="45" height="27" rx="5"/><text class="gt" x="845" y="741">[OH<tspan class="sb" dy="-4">-</tspan><tspan dy="4">]</tspan></text></g>
<g id="f-AB"><rect class="gb" x="863" y="757" width="47" height="27" rx="5"/><text class="gt" x="886" y="774" style="font-size:12px">A<tspan class="sb" dy="2">B</tspan></text></g>
<g id="f-ANH3"><rect class="gl" x="918" y="779" width="46" height="27" rx="5"/><text class="glt" x="940" y="797" style="font-size:13px">A<tspan class="sb" dy="2">ΣNH</tspan><tspan dy="1" style="font-size:40%">3</tspan></text></g>
<g id="f-At"><rect class="gb" x="710" y="797" width="46" height="28" rx="5"/><text class="gt" x="733" y="815" style="font-size:12px">A<tspan class="sb" dy="2">t</tspan></text></g>
<g id="f-AH2S"><rect class="gl" x="884" y="830" width="46" height="27" rx="5"/><text class="glt" x="906" y="848" style="font-size:13px">A<tspan dy="2" style="font-size:50%">ΣH2S</tspan></text></g>
<g id="f-AH2SO4"><rect class="gl" x="773" y="844" width="51" height="28" rx="5"/><text class="glt" x="798" y="862" style="font-size:13px">A<tspan dy="2" style="font-size:50%">ΣH</tspan><tspan style="font-size:35%">2</tspan><tspan style="font-size:50%">SO</tspan><tspan style="font-size:35%">4</tspan></text></g>

<g id="panel-labels">
<text class="pl" x="25" y="35">(a)</text>
<text class="pl" x="358" y="43">(b)</text>
<text class="pl" x="1014" y="40">(c)</text>
<text class="pl" x="35" y="574">(d)</text>
<text class="pl" x="1020" y="562">(g)</text>
<text class="pl" x="440" y="531" style="font-size:25px">e)</text>
<text class="pl" x="533" y="680" style="font-size:25px">f)</text>
</g>
</svg>
